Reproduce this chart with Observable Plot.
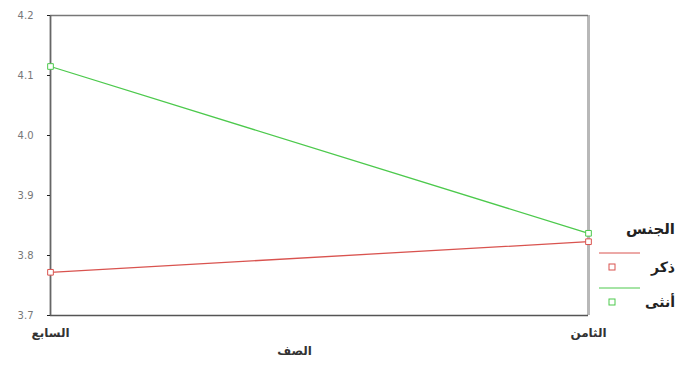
<!DOCTYPE html>
<html><head><meta charset="utf-8">
<script src="https://cdn.jsdelivr.net/npm/d3@7"></script>
<script src="https://cdn.jsdelivr.net/npm/@observablehq/plot@0.6"></script>
<style>
body{margin:0;background:#fff;font-family:"DejaVu Sans",sans-serif;}
#wrap{position:relative;width:682px;height:372px;}
#legend{position:absolute;left:596px;top:220px;width:86px;font-family:"DejaVu Sans",sans-serif;font-size:12px;font-weight:bold;color:#222;}
</style></head>
<body><div id="wrap"><div id="chart"></div><div id="legend"></div></div>
<script>
const grades = ["السابع","الثامن"];
const legendTitle = "الجنس";
const genders = ["ذكر","أنثى"];
const colors = ["#d9534f","#4cc94c"];
const maleValues = [3.772, 3.823];
const femaleValues = [4.115, 3.837];
const yTicks = [3.7,3.8,3.9,4.0,4.1,4.2];
const xLabel = "الصف";

const data = [];
grades.forEach((g,i)=>{
  data.push({grade:g, gender:genders[0], value:maleValues[i]});
  data.push({grade:g, gender:genders[1], value:femaleValues[i]});
});

const chart = Plot.plot({
  width:682, height:372,
  marginLeft:50, marginRight:94, marginTop:15, marginBottom:57,
  style:{fontFamily:"DejaVu Sans, sans-serif", background:"#fff"},
  x:{type:"point", domain:grades, padding:0, label:null, axis:null},
  y:{domain:[3.7,4.2], ticks:yTicks, label:null, axis:null},
  color:{domain:genders, range:colors},
  marks:[
    Plot.ruleX([grades[1]], {stroke:"#b8b8b8", strokeWidth:3}),
    Plot.ruleY([4.2], {stroke:"#777", strokeWidth:1.5}),
    Plot.ruleY([3.7], {stroke:"#555", strokeWidth:1.5}),
    Plot.ruleX([grades[0]], {stroke:"#666", strokeWidth:1.8}),
    Plot.axisY({ticks:yTicks, tickSize:3, tickFormat:d=>d.toFixed(1), fontSize:10, fill:"#777", stroke:"#222", tickPadding:14}),
    Plot.axisX({tickSize:0, fontSize:12, fontWeight:"bold", fill:"#333", tickPadding:13}),
    Plot.text([xLabel], {frameAnchor:"bottom", dy:39, dx:-25, fontSize:12, fontWeight:"bold", fill:"#333"}),
    Plot.line(data, {x:"grade", y:"value", stroke:"gender", strokeWidth:1.3}),
    Plot.dot(data, {x:"grade", y:"value", stroke:"gender", symbol:"square", r:3.2, fill:"white", strokeWidth:1})
  ]
});
document.getElementById("chart").appendChild(chart);

const lg = d3.select("#legend");
lg.append("div").style("text-align","right").style("padding-right","7px").style("font-size","15px").style("line-height","18px").style("margin-bottom","11px").text(legendTitle);
genders.forEach((g,i)=>{
  const row = lg.append("div").style("position","relative").style("height","35px");
  const s = row.append("svg").attr("width",50).attr("height",35).style("position","absolute").style("left","0").style("top","0");
  s.append("line").attr("x1",3).attr("x2",44).attr("y1",4).attr("y2",4).attr("stroke",colors[i]).attr("stroke-width",1);
  s.append("rect").attr("x",13).attr("y",15).attr("width",6).attr("height",6).attr("fill","white").attr("stroke",colors[i]);
  row.append("div").style("position","absolute").style("right","7px").style("top","10px").style("font-size","14px").text(g);
});
</script>
</body></html>
